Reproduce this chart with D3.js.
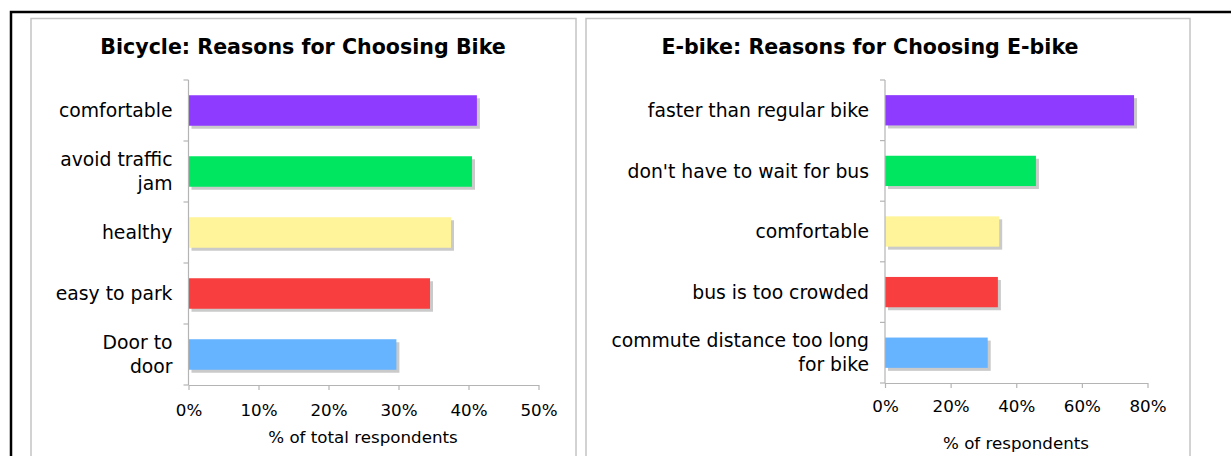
<!DOCTYPE html>
<html>
<head>
<meta charset="utf-8">
<script src="https://cdn.jsdelivr.net/npm/d3@7"></script>
<style>
  body { margin: 0; background: #fff; }
  svg text { font-family: "DejaVu Sans", Verdana, sans-serif; fill: #000; }
  .title { font-weight: bold; font-size: 20.6px; }
  .label { font-size: 18.8px; }
  .x-axis text { font-size: 16.7px; }
  .x-title { font-size: 16.7px; }
</style>
</head>
<body>
<div id="chart"></div>
<script>
const bikeCategories = ['comfortable', 'avoid traffic\njam', 'healthy', 'easy to park', 'Door to\ndoor'];
const bikeValues = [41.2, 40.5, 37.5, 34.5, 29.7];
const bikeTicks = [0, 10, 20, 30, 40, 50];

const ebikeCategories = ['faster than regular bike', "don't have to wait for bus", 'comfortable', 'bus is too crowded', 'commute distance too long\nfor bike'];
const ebikeValues = [75.9, 46.0, 34.8, 34.4, 31.3];
const ebikeTicks = [0, 20, 40, 60, 80];

const barColors = ['#8e3aff', '#00e660', '#fff499', '#f83e3e', '#66b3ff'];

const width = 1231, height = 456;

const svg = d3.select('#chart').append('svg')
  .attr('width', width)
  .attr('height', height)
  .attr('viewBox', [0, 0, width, height]);

// outer frame (top and left edge only)
svg.append('path')
  .attr('d', `M11,${height} L11,12 L${width},12`)
  .attr('fill', 'none')
  .attr('stroke', '#000')
  .attr('stroke-width', 2.5);

// panel borders
svg.append('rect')
  .attr('x', 31).attr('y', 18.5).attr('width', 545).attr('height', 460)
  .attr('fill', 'none').attr('stroke', '#c4c4c4').attr('stroke-width', 1.5);
svg.append('rect')
  .attr('x', 586).attr('y', 18.5).attr('width', 604).attr('height', 460)
  .attr('fill', 'none').attr('stroke', '#c4c4c4').attr('stroke-width', 1.5);

function drawChart(opts) {
  const g = svg.append('g');

  const x = d3.scaleLinear()
    .domain([0, d3.max(opts.ticks)])
    .range([opts.x0, opts.x1]);

  const y = d3.scaleBand()
    .domain(opts.categories)
    .range([opts.y0, opts.y1])
    .paddingInner(0.5)
    .paddingOuter(0.25);

  g.append('text')
    .attr('class', 'title')
    .attr('x', opts.titleX)
    .attr('y', 54)
    .attr('text-anchor', 'middle')
    .text(opts.title);

  const data = opts.categories.map((c, i) => ({ cat: c, value: opts.values[i], color: barColors[i] }));

  // shadows
  g.selectAll('rect.shadow')
    .data(data)
    .join('rect')
    .attr('class', 'shadow')
    .attr('x', x(0) + 3)
    .attr('y', d => y(d.cat) + 3)
    .attr('width', d => x(d.value) - x(0))
    .attr('height', y.bandwidth())
    .attr('fill', '#cacaca');

  g.selectAll('rect.bar')
    .data(data)
    .join('rect')
    .attr('class', 'bar')
    .attr('x', x(0))
    .attr('y', d => y(d.cat))
    .attr('width', d => x(d.value) - x(0))
    .attr('height', y.bandwidth())
    .attr('fill', d => d.color);

  // y axis with ticks at band boundaries
  const step = y.step();
  const bounds = d3.range(opts.categories.length + 1).map(i => opts.y0 + i * step);
  g.append('line')
    .attr('x1', x(0)).attr('x2', x(0))
    .attr('y1', opts.y0).attr('y2', opts.y1)
    .attr('stroke', '#b4b4b4').attr('stroke-width', 1.2);
  g.selectAll('line.ytick')
    .data(bounds)
    .join('line')
    .attr('class', 'ytick')
    .attr('x1', x(0) - 5).attr('x2', x(0))
    .attr('y1', d => d).attr('y2', d => d)
    .attr('stroke', '#b4b4b4').attr('stroke-width', 1.2);

  // category labels
  const lineH = 24;
  g.selectAll('text.label')
    .data(data)
    .join('text')
    .attr('class', 'label')
    .attr('text-anchor', 'end')
    .each(function(d) {
      const lines = d.cat.split('\n');
      const cy = y(d.cat) + y.bandwidth() / 2;
      const t = d3.select(this);
      lines.forEach((ln, k) => {
        t.append('tspan')
          .attr('x', x(0) - 16)
          .attr('y', cy + (k - (lines.length - 1) / 2) * lineH)
          .attr('dy', '0.36em')
          .text(ln);
      });
    });

  // x axis
  const xAxis = g.append('g')
    .attr('class', 'x-axis')
    .attr('transform', `translate(0,${opts.y1})`)
    .call(d3.axisBottom(x)
      .tickValues(opts.ticks)
      .tickFormat(d => d + '%')
      .tickSize(5)
      .tickSizeOuter(0)
      .tickPadding(opts.tickPad));
  xAxis.select('.domain').attr('stroke', '#b4b4b4').attr('stroke-width', 1.2);
  xAxis.selectAll('.tick line').attr('stroke', '#b4b4b4').attr('stroke-width', 1.2);
  xAxis.selectAll('.tick text').attr('fill', '#000');
  xAxis.attr('font-family', null).attr('font-size', null);

  g.append('text')
    .attr('class', 'x-title')
    .attr('x', opts.xTitleX)
    .attr('y', opts.xTitleY)
    .attr('text-anchor', 'middle')
    .text(opts.xTitle);
}

drawChart({
  title: 'Bicycle: Reasons for Choosing Bike',
  titleX: 303,
  categories: bikeCategories,
  values: bikeValues,
  ticks: bikeTicks,
  x0: 188.5, x1: 538.5,
  y0: 80, y1: 385,
  tickPad: 14,
  xTitle: '% of total respondents',
  xTitleX: 363, xTitleY: 443
});

drawChart({
  title: 'E-bike: Reasons for Choosing E-bike',
  titleX: 870,
  categories: ebikeCategories,
  values: ebikeValues,
  ticks: ebikeTicks,
  x0: 885, x1: 1147.5,
  y0: 80, y1: 383,
  tickPad: 12,
  xTitle: '% of respondents',
  xTitleX: 1016, xTitleY: 449
});
</script>
</body>
</html>
